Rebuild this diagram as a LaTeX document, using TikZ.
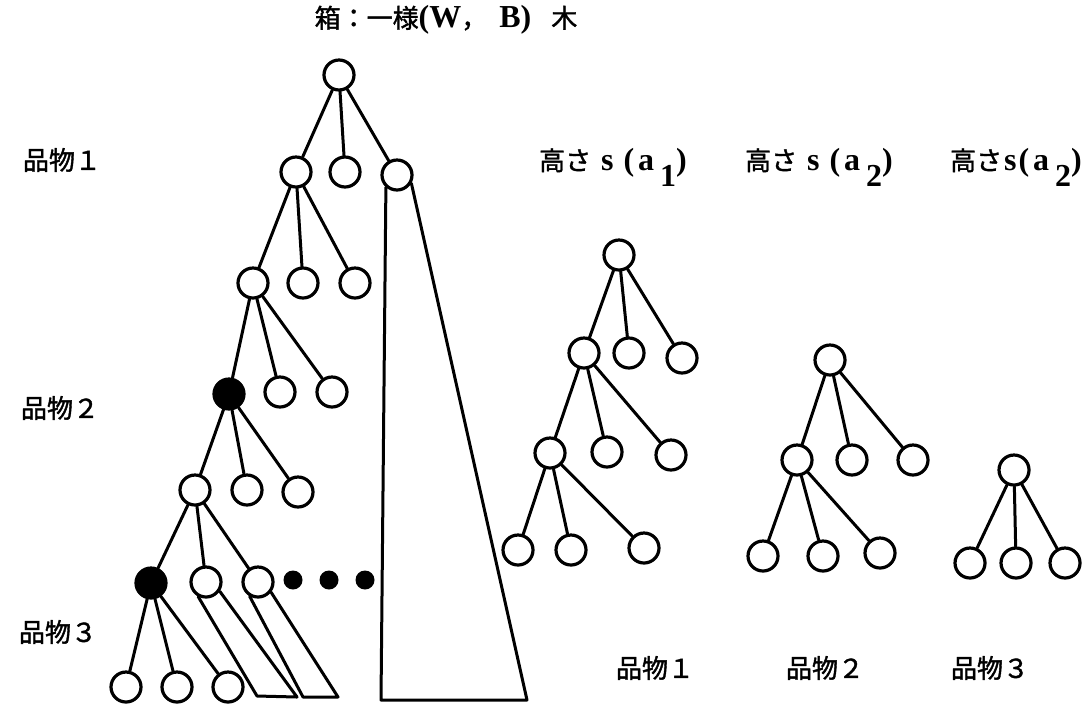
\documentclass[tikz,border=0pt]{standalone}
\usepackage{fontspec}
\setmainfont{Liberation Serif}
\newfontfamily\jp[FakeBold=1.5]{Noto Sans CJK JP}
\newcommand{\lt}[1]{{\rmfamily\bfseries\fontsize{16}{18}\selectfont #1}}
\newcommand{\hgt}[2]{高さ\hspace{#2}\lt{s}\hspace{#2}\lt{(}\hspace{2pt}\lt{a}\hspace{3pt}\raisebox{-8pt}{\lt{#1}}\lt{)}}

\begin{document}
\begin{tikzpicture}[x=0.5pt,y=-0.5pt,line join=round,line cap=round,
  vtx/.style={circle,draw,line width=1.6pt,minimum size=15pt,inner sep=0pt},
  blk/.style={vtx,fill=black},
  dot/.style={circle,fill=black,minimum size=9.5pt,inner sep=0pt},
  edge/.style={line width=1.5pt},
  lbl/.style={font=\jp\fontsize{13}{15}\selectfont}]
\useasboundingbox (0,0) rectangle (1090,708);

\node[lbl] (title) at (446,20) {箱：一様\lt{(W}，\hspace{6pt}\lt{B)}\hspace{10pt}木};
\node[lbl] (l1) at (62,160) {品物１};
\node[lbl] (l2) at (60,408) {品物２};
\node[lbl] (l3) at (58,632) {品物３};

\node[vtx] (r) at (339,75) {};
\node[vtx] (a1) at (296,172) {};
\node[vtx] (a2) at (345,172) {};
\node[vtx] (a3) at (397,175) {};
\node[vtx] (b1) at (253,283) {};
\node[vtx] (b2) at (303,283) {};
\node[vtx] (b3) at (355,283) {};
\node[blk] (c1) at (229,394) {};
\node[vtx] (c2) at (280,392) {};
\node[vtx] (c3) at (332,392) {};
\node[vtx] (d1) at (195,490) {};
\node[vtx] (d2) at (247,490) {};
\node[vtx] (d3) at (298,492) {};
\node[blk] (e1) at (151,583) {};
\node[vtx] (e2) at (206,582) {};
\node[vtx] (e3) at (258,582) {};
\foreach \i/\x in {1/293,2/329,3/365}
    \node[dot] (dt\i) at (\x,580) {};
\node[vtx] (f1) at (126,687) {};
\node[vtx] (f2) at (177,687) {};
\node[vtx] (f3) at (228,687) {};

\foreach \u/\v in {r/a1,r/a2,r/a3,a1/b1,a1/b2,a1/b3,b1/c1,b1/c2,b1/c3,
    c1/d1,c1/d2,c1/d3,d1/e1,d1/e2,d1/e3,e1/f1,e1/f2,e1/f3}
    \draw[edge] (\u) -- (\v);

\coordinate (g1) at (257,696);
\coordinate (g2) at (297,697);
\coordinate (g3) at (303,697);
\coordinate (g4) at (338,697);
\coordinate (h1) at (381,700);
\coordinate (h2) at (527,700);
\draw[edge] (e2.242) -- (g1) -- (g2) -- (e2.326);
\draw[edge] (e3.240) -- (g3) -- (g4) -- (e3.322);
\draw[edge] (a3.228) -- (h1) -- (h2) -- (a3.330);

\node[lbl] (s1) at (613,167) {\hgt{1}{5pt}};
\node[lbl] (s2) at (819,167) {\hgt{2}{5pt}};
\node[lbl] (s3) at (1016,167) {\hgt{2}{1pt}};

\node[vtx] (p) at (619,255) {};
\node[vtx] (p1) at (584,353) {};
\node[vtx] (p2) at (629,353) {};
\node[vtx] (p3) at (682,358) {};
\node[vtx] (p11) at (550,453) {};
\node[vtx] (p12) at (607,452) {};
\node[vtx] (p13) at (671,455) {};
\node[vtx] (p111) at (518,550) {};
\node[vtx] (p112) at (571,550) {};
\node[vtx] (p113) at (644,548) {};
\foreach \u/\v in {p/p1,p/p2,p/p3,p1/p11,p1/p12,p1/p13,p11/p111,p11/p112,p11/p113}
    \draw[edge] (\u) -- (\v);

\node[vtx] (q) at (830,360) {};
\node[vtx] (q1) at (797,460) {};
\node[vtx] (q2) at (852,460) {};
\node[vtx] (q3) at (913,460) {};
\node[vtx] (q11) at (763,556) {};
\node[vtx] (q12) at (823,556) {};
\node[vtx] (q13) at (880,553) {};
\foreach \u/\v in {q/q1,q/q2,q/q3,q1/q11,q1/q12,q1/q13}
    \draw[edge] (\u) -- (\v);

\node[vtx] (t) at (1014,470) {};
\node[vtx] (t1) at (970,563) {};
\node[vtx] (t2) at (1016,563) {};
\node[vtx] (t3) at (1065,563) {};
\foreach \v in {t1,t2,t3}
    \draw[edge] (t) -- (\v);

\node[lbl] (m1) at (655,668) {品物１};
\node[lbl] (m2) at (825,668) {品物２};
\node[lbl] (m3) at (990,668) {品物３};
\end{tikzpicture}
\end{document}
